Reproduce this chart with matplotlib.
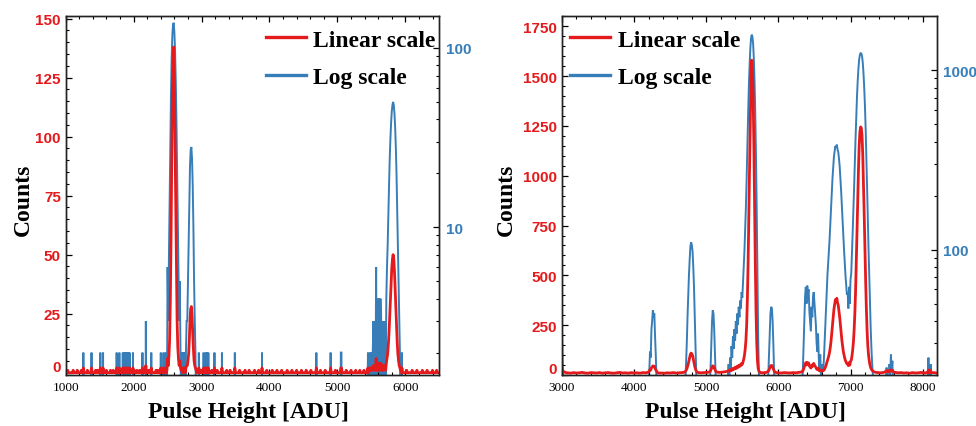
import numpy as np
import matplotlib
matplotlib.use("Agg")
import matplotlib.pyplot as plt
from matplotlib.lines import Line2D
import matplotlib.ticker as mticker
import matplotlib.transforms as mtransforms

RED = "#e41a1c"
BLUE = "#377eb8"
SERIF = "Liberation Serif"
SANS = "Liberation Sans"

# ---------------- data ----------------
# Left spectrum: 10-ADU bins from 1000 to 6500, only the non-empty bins are listed
left_range = (1000, 6500)
left_bin = 10
left_low_hits = [(1030, 1), (1110, 1), (1170, 1), (1230, 1), (1260, 2), (1320, 1), (1380, 2),
                 (1440, 1), (1470, 1), (1510, 2), (1550, 2), (1600, 1), (1660, 1), (1700, 1),
                 (1750, 2), (1790, 2), (1810, 1), (1840, 2), (1860, 2), (1880, 2), (1900, 2),
                 (1920, 2), (1940, 2), (1990, 2), (2010, 1), (2050, 1), (2090, 1), (2130, 2),
                 (2180, 3), (2220, 1), (2260, 2), (2330, 1), (2360, 1), (2400, 2), (2440, 2),
                 (2470, 2), (2490, 1)]
left_peak_2590 = [(2500, 6), (2510, 3), (2520, 7), (2530, 14), (2540, 30), (2550, 55), (2560, 88),
                  (2570, 118), (2580, 135), (2590, 138), (2600, 122), (2610, 96), (2620, 66),
                  (2630, 40), (2640, 22), (2650, 11), (2660, 6), (2670, 3), (2680, 5), (2690, 2),
                  (2700, 1), (2710, 2), (2730, 2), (2740, 1), (2750, 2), (2770, 2), (2780, 3)]
left_peak_2850 = [(2790, 3), (2800, 5), (2810, 8), (2820, 14), (2830, 22), (2840, 27), (2850, 28),
                  (2860, 24), (2870, 17), (2880, 10), (2890, 5), (2900, 3), (2910, 2), (2920, 1)]
left_mid_hits = [(2960, 2), (3000, 1), (3030, 2), (3060, 2), (3080, 2), (3100, 2), (3150, 1),
                 (3190, 2), (3230, 1), (3300, 2), (3370, 1), (3420, 1), (3490, 2), (3560, 1),
                 (3640, 1), (3700, 1), (3780, 1), (3840, 1), (3890, 2), (3960, 1), (4040, 1),
                 (4110, 1), (4180, 1), (4260, 1), (4330, 1), (4400, 1), (4470, 1), (4540, 1),
                 (4610, 1), (4690, 2), (4750, 1), (4820, 1), (4900, 2), (4970, 1), (5050, 2),
                 (5060, 2), (5130, 1), (5200, 1), (5270, 1), (5330, 1), (5390, 1), (5440, 1),
                 (5450, 2), (5470, 1), (5480, 2), (5490, 1), (5500, 2), (5510, 1), (5520, 2),
                 (5530, 3), (5540, 1), (5550, 3), (5560, 1), (5570, 6), (5580, 1), (5590, 3),
                 (5600, 4), (5610, 1), (5620, 4), (5630, 1), (5640, 4), (5650, 2), (5660, 1),
                 (5670, 3), (5680, 1), (5690, 3), (5700, 2), (5710, 1), (5720, 4)]
left_peak_5820 = [(5730, 6), (5740, 8), (5750, 12), (5760, 17), (5770, 24), (5780, 31), (5790, 38),
                  (5800, 44), (5810, 48), (5820, 50), (5830, 48), (5840, 43), (5850, 36),
                  (5860, 28), (5870, 20), (5880, 13), (5890, 8), (5900, 5), (5910, 3), (5920, 2),
                  (5930, 1), (5950, 2)]
left_high_hits = [(6020, 1), (6100, 1), (6170, 1), (6250, 1), (6320, 1), (6400, 1), (6460, 1)]

# Right spectrum: (ADU, counts) points
right_start = [(3000, 36), (3010, 22), (3020, 17), (3030, 14), (3040, 15), (3060, 11)]
right_flat_a = [(3080, 11), (3120, 9), (3160, 12), (3200, 10), (3240, 11), (3280, 13), (3320, 10),
                (3360, 9), (3400, 12), (3440, 11), (3480, 10), (3520, 12), (3560, 9), (3600, 11),
                (3640, 12), (3680, 10), (3720, 9), (3760, 11), (3800, 13), (3840, 10), (3880, 11),
                (3920, 9), (3960, 12), (4000, 10), (4040, 11), (4080, 9), (4120, 12), (4160, 11)]
right_peak_4270 = [(4180, 12), (4190, 13), (4200, 16), (4210, 21), (4220, 27), (4230, 25), (4240, 36),
                   (4250, 40), (4260, 46), (4270, 42), (4280, 44), (4290, 33), (4300, 26),
                   (4310, 19), (4320, 14), (4330, 11), (4340, 10)]
right_flat_b = [(4380, 10), (4420, 9), (4460, 11), (4500, 10), (4540, 12), (4580, 10), (4620, 11),
                (4660, 12), (4690, 13)]
right_peak_4800 = [(4700, 15), (4710, 18), (4720, 23), (4730, 30), (4740, 42), (4750, 55), (4760, 72),
                   (4770, 88), (4780, 104), (4790, 110), (4800, 106), (4810, 98), (4820, 80),
                   (4830, 62), (4840, 44), (4850, 30), (4860, 21), (4870, 16), (4880, 13), (4890, 12)]
right_peak_5095 = [(4930, 11), (4970, 12), (5010, 13), (5040, 14), (5050, 17), (5060, 22), (5070, 30),
                   (5080, 40), (5090, 46), (5100, 44), (5110, 36), (5120, 27), (5130, 20),
                   (5140, 16), (5150, 14), (5180, 13), (5220, 14), (5260, 16), (5290, 18)]
right_peak_5630 = [(5300, 20), (5310, 23), (5320, 19), (5330, 25), (5340, 21), (5350, 29), (5360, 25),
                   (5370, 33), (5380, 28), (5390, 36), (5400, 31), (5410, 40), (5420, 34), (5430, 44),
                   (5440, 38), (5450, 48), (5460, 42), (5470, 52), (5480, 47), (5490, 58), (5500, 54),
                   (5510, 66), (5520, 80), (5530, 100), (5540, 130), (5550, 175), (5560, 250),
                   (5570, 380), (5580, 560), (5590, 800), (5600, 1050), (5610, 1300), (5620, 1500),
                   (5630, 1580), (5640, 1540), (5650, 1400), (5660, 1150), (5670, 850), (5680, 560),
                   (5690, 320), (5700, 160), (5710, 70), (5720, 32), (5730, 20), (5740, 15),
                   (5750, 12), (5790, 11), (5830, 13), (5850, 16)]
right_peak_5910 = [(5860, 20), (5870, 26), (5880, 35), (5890, 44), (5900, 48), (5910, 47), (5920, 40),
                   (5930, 30), (5940, 21), (5950, 16), (5960, 13), (6000, 11), (6040, 10), (6080, 12),
                   (6120, 11), (6160, 10), (6200, 12), (6240, 11), (6280, 13), (6320, 15)]
right_cluster_6450 = [(6330, 17), (6340, 22), (6350, 30), (6360, 42), (6370, 55), (6380, 62),
                      (6390, 50), (6400, 63), (6410, 58), (6420, 60), (6430, 45), (6440, 40),
                      (6450, 35), (6460, 48), (6470, 42), (6480, 55), (6490, 58), (6500, 50),
                      (6510, 44), (6520, 38), (6530, 30), (6540, 27), (6550, 34), (6560, 25),
                      (6570, 21), (6580, 26), (6590, 20), (6600, 19), (6610, 23), (6620, 21)]
right_peaks_6810_7145 = [(6630, 24), (6640, 30), (6650, 38), (6660, 48), (6670, 60), (6680, 72),
                         (6690, 85), (6700, 98), (6710, 115), (6720, 140), (6730, 170), (6740, 210),
                         (6750, 250), (6760, 290), (6770, 330), (6780, 355), (6790, 378),
                         (6800, 370), (6810, 385), (6820, 362), (6830, 350), (6840, 322),
                         (6850, 290), (6860, 250), (6870, 212), (6880, 175), (6890, 148),
                         (6900, 118), (6910, 100), (6920, 84), (6930, 72), (6940, 64), (6950, 56),
                         (6960, 58), (6970, 47), (6980, 62), (6990, 50), (7000, 68), (7010, 74),
                         (7020, 95), (7030, 125), (7040, 165), (7050, 225), (7060, 310),
                         (7070, 420), (7080, 560), (7090, 720), (7100, 880), (7110, 1030),
                         (7120, 1150), (7130, 1220), (7140, 1245), (7150, 1240), (7160, 1200),
                         (7170, 1100), (7180, 960), (7190, 800), (7200, 630), (7210, 470),
                         (7220, 330), (7230, 220), (7240, 145), (7250, 100), (7260, 70), (7270, 50),
                         (7280, 36), (7290, 28), (7300, 23), (7310, 20), (7320, 17), (7340, 14)]
right_tail = [(7380, 12), (7420, 11), (7460, 13), (7490, 18), (7500, 22), (7510, 16), (7520, 20),
              (7530, 15), (7540, 23), (7550, 19), (7560, 26), (7570, 21), (7580, 24), (7590, 17),
              (7600, 15), (7620, 13), (7660, 11), (7700, 12), (7740, 10), (7780, 11), (7820, 9),
              (7860, 12), (7900, 10), (7940, 11), (7980, 13), (8020, 10), (8060, 12), (8070, 11),
              (8080, 25), (8090, 12), (8100, 14), (8110, 23), (8120, 11), (8160, 12), (8190, 10)]

# ---------------- assemble series ----------------
left_x = np.arange(left_range[0], left_range[1] + left_bin, left_bin)
left_y = np.zeros_like(left_x, dtype=float)
for seg in (left_low_hits, left_peak_2590, left_peak_2850, left_mid_hits, left_peak_5820, left_high_hits):
    for adu, c in seg:
        left_y[(adu - left_range[0]) // left_bin] = c

right_pts = sorted(right_start + right_flat_a + right_peak_4270 + right_flat_b + right_peak_4800 +
                   right_peak_5095 + right_peak_5630 + right_peak_5910 + right_cluster_6450 +
                   right_peaks_6810_7145 + right_tail)
right_x = np.array([p[0] for p in right_pts], dtype=float)
right_y = np.array([p[1] for p in right_pts], dtype=float)

# ---------------- figure ----------------
W, H = 976, 427
fig = plt.figure(figsize=(W / 100, H / 100), dpi=100)


def make_panel(rect, x, y, xlim, ylim_lin, yticks_lin, minor_lin, ylim_log, yticks_log,
               legend_x, ylabel_x):
    ax = fig.add_axes(rect)
    axl = ax.twinx()
    ax.set_zorder(axl.get_zorder() + 1)
    ax.patch.set_visible(False)

    axl.plot(x, y, color=BLUE, lw=1.4, solid_joinstyle="miter")
    axl.set_yscale("log", nonpositive="clip")
    ax.plot(x, y, color=RED, lw=2.0)

    ax.set_xlim(*xlim)
    ax.set_ylim(*ylim_lin)
    axl.set_ylim(*ylim_log)

    # x axis
    ax.xaxis.set_major_locator(mticker.MultipleLocator(1000))
    ax.xaxis.set_minor_locator(mticker.MultipleLocator(200))
    ax.tick_params(axis="x", which="both", direction="in", top=True, bottom=True,
                   labelsize=9.5, pad=4, color="black")
    ax.tick_params(axis="both", which="major", length=4, width=0.9)
    ax.tick_params(axis="both", which="minor", length=2, width=0.8)
    for lab in ax.get_xticklabels():
        lab.set_fontfamily(SERIF)

    # linear y axis (left)
    ax.set_yticks(yticks_lin)
    ax.yaxis.set_minor_locator(mticker.MultipleLocator(minor_lin))
    ax.set_yticklabels([""] + [str(v) for v in yticks_lin[1:]], fontfamily=SANS,
                       fontweight="bold", color=RED, fontsize=11)
    ax.tick_params(axis="y", which="both", direction="in", left=True, right=False, pad=3.5)
    shift = mtransforms.blended_transform_factory(ax.transAxes, ax.transData) + \
        mtransforms.ScaledTranslation(-3.5 / 72, 4.0 / 72, fig.dpi_scale_trans)
    ax.text(0, 0, "0", transform=shift, ha="right", va="center", fontfamily=SANS,
            fontweight="bold", color=RED, fontsize=11)

    # log y axis (right)
    axl.set_yticks(yticks_log)
    axl.yaxis.set_minor_locator(mticker.LogLocator(base=10, subs=np.arange(2, 10)))
    axl.yaxis.set_minor_formatter(mticker.NullFormatter())
    axl.set_yticklabels([f"{v:g}" for v in yticks_log], fontfamily=SANS, fontweight="bold",
                        color=BLUE, fontsize=11)
    axl.tick_params(axis="y", which="both", direction="in", right=True, left=False, pad=4.5)
    axl.tick_params(axis="y", which="major", length=4, width=0.9)
    axl.tick_params(axis="y", which="minor", length=2, width=0.8)

    for a in (ax, axl):
        for sp in a.spines.values():
            sp.set_linewidth(1.0)
            sp.set_color("#222222")

    ax.set_xlabel("Pulse Height [ADU]", fontfamily=SERIF, fontweight="bold", fontsize=17)
    ax.xaxis.set_label_coords(0.49, -0.072)
    ax.set_ylabel("Counts", fontfamily=SERIF, fontweight="bold", fontsize=17)
    ax.yaxis.set_label_coords(ylabel_x, 0.49)

    handles = [Line2D([], [], color=RED, lw=2.4), Line2D([], [], color=BLUE, lw=2.4)]
    ax.legend(handles, ["Linear scale", "Log scale"], loc="upper left",
              bbox_to_anchor=(legend_x, 0.964), frameon=False, borderpad=0, borderaxespad=0,
              handlelength=1.7, handletextpad=0.32, labelspacing=0.66,
              prop=dict(family=SERIF, weight="bold", size=17))
    return ax, axl


# left panel
make_panel([65.7 / W, 1 - 376 / H, (439.3 - 65.7) / W, (376 - 17.3) / H],
           left_x, left_y, (1000, 6500), (-1, 151), [0, 25, 50, 75, 100, 125, 150], 5,
           (1.5, 150), [10, 100], 0.535, -0.085)

# right panel
make_panel([562 / W, 1 - 376 / H, (936.5 - 562) / W, (376 - 17.3) / H],
           right_x, right_y, (3000, 8192), (0, 1800), [0, 250, 500, 750, 1000, 1250, 1500, 1750], 50,
           (20, 2000), [100, 1000], 0.021, -0.12)

fig.savefig("out.png", dpi=100)
